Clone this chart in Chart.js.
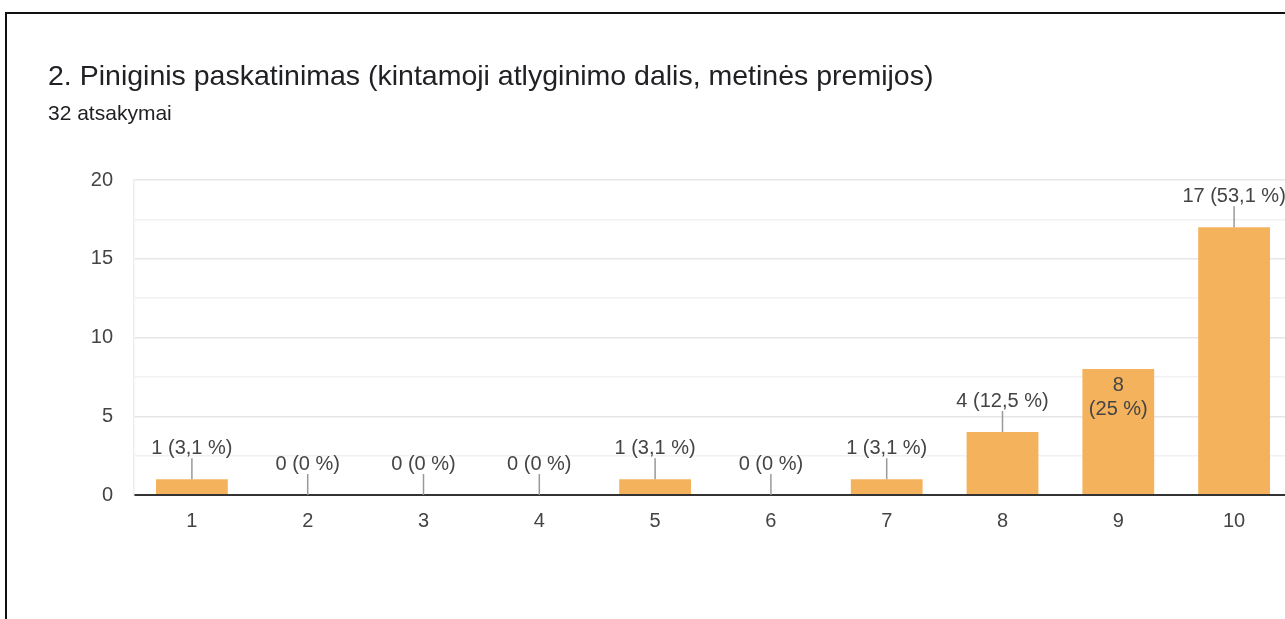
<!DOCTYPE html>
<html>
<head>
<meta charset="utf-8">
<script src="https://cdn.jsdelivr.net/npm/chart.js@4.4.1/dist/chart.umd.min.js"></script>
<style>
  html, body { margin:0; padding:0; width:1285px; height:619px; overflow:hidden; background:#fff; }
  #card { position:absolute; left:5px; top:12px; width:1400px; height:700px; border:2px solid #111; box-sizing:border-box; }
  #title { position:absolute; left:48px; top:59px; line-height:32px; font-family:"Liberation Sans", Arial, sans-serif; font-size:28.5px; color:#202124; white-space:nowrap; z-index:2; }
  #sub { position:absolute; left:48px; top:101px; line-height:24px; font-family:"Liberation Sans", Arial, sans-serif; font-size:21px; color:#202124; white-space:nowrap; z-index:2; }
  #wrap { position:absolute; left:0; top:0; width:1400px; height:619px; z-index:1; }
</style>
</head>
<body>
<div id="card"></div>
<div id="title">2. Piniginis paskatinimas (kintamoji atlyginimo dalis, metinės premijos)</div>
<div id="sub">32 atsakymai</div>
<div id="wrap"><canvas id="c"></canvas></div>
<script>
const categories = ['1','2','3','4','5','6','7','8','9','10'];
const counts = [1, 0, 0, 0, 1, 0, 1, 4, 8, 17];
const percents = ['3,1', '0', '0', '0', '3,1', '0', '3,1', '12,5', '25', '53,1'];
const yTicks = [0, 5, 10, 15, 20];

const FONT = '"Liberation Sans", Arial, sans-serif';

const labelPlugin = {
  id: 'barLabels',
  afterDatasetsDraw(chart) {
    const ctx = chart.ctx;
    const meta = chart.getDatasetMeta(0);
    ctx.save();
    ctx.font = '20px ' + FONT;
    ctx.textAlign = 'center';
    ctx.textBaseline = 'middle';
    meta.data.forEach((bar, i) => {
      const x = bar.x, top = bar.y;
      const v = counts[i];
      if (v === 8) {
        ctx.fillStyle = '#444';
        ctx.fillText(String(v), x, top + 16);
        ctx.fillText('(' + percents[i] + ' %)', x, top + 40);
        return;
      }
      ctx.strokeStyle = '#999';
      ctx.lineWidth = 1.5;
      ctx.beginPath();
      ctx.moveTo(x, top);
      ctx.lineTo(x, top - 21);
      ctx.stroke();
      ctx.fillStyle = '#444';
      ctx.fillText(v + ' (' + percents[i] + ' %)', x, top - 31);
    });
    ctx.restore();
  }
};

new Chart(document.getElementById('c'), {
  type: 'bar',
  data: {
    labels: categories,
    datasets: [{
      data: counts,
      backgroundColor: '#f4b25d',
      borderWidth: 0,
      categoryPercentage: 1,
      barPercentage: 0.62
    }]
  },
  options: {
    responsive: true,
    maintainAspectRatio: false,
    animation: false,
    layout: { padding: { left: 0, right: 108, top: 180, bottom: 84 } },
    plugins: { legend: { display: false }, tooltip: { enabled: false } },
    scales: {
      x: {
        grid: { display: false, drawTicks: false },
        border: { display: true, color: '#333', width: 2 },
        ticks: { color: '#444', font: { family: FONT, size: 20 }, padding: 14 },
        afterFit(s) { s.height = 40; }
      },
      y: {
        min: 0, max: 20,
        afterBuildTicks(s) {
          const t = [];
          for (let v = 0; v <= 20; v += 2.5) t.push({ value: v });
          s.ticks = t;
        },
        grid: {
          drawTicks: false,
          color(c) {
            const v = c.tick ? c.tick.value : 0;
            if (v === 0) return '#333';
            return yTicks.includes(v) ? '#e6e6e6' : '#f2f2f2';
          },
          lineWidth(c) { return (c.tick && c.tick.value === 0) ? 2 : 1.5; }
        },
        border: { display: true, color: '#eeeeee', width: 1.5 },
        ticks: {
          color: '#444',
          font: { family: FONT, size: 20 },
          padding: 21,
          callback(v) { return yTicks.includes(v) ? String(v) : ''; }
        },
        afterFit(s) { s.width = 134; }
      }
    }
  },
  plugins: [labelPlugin]
});
</script>
</body>
</html>
